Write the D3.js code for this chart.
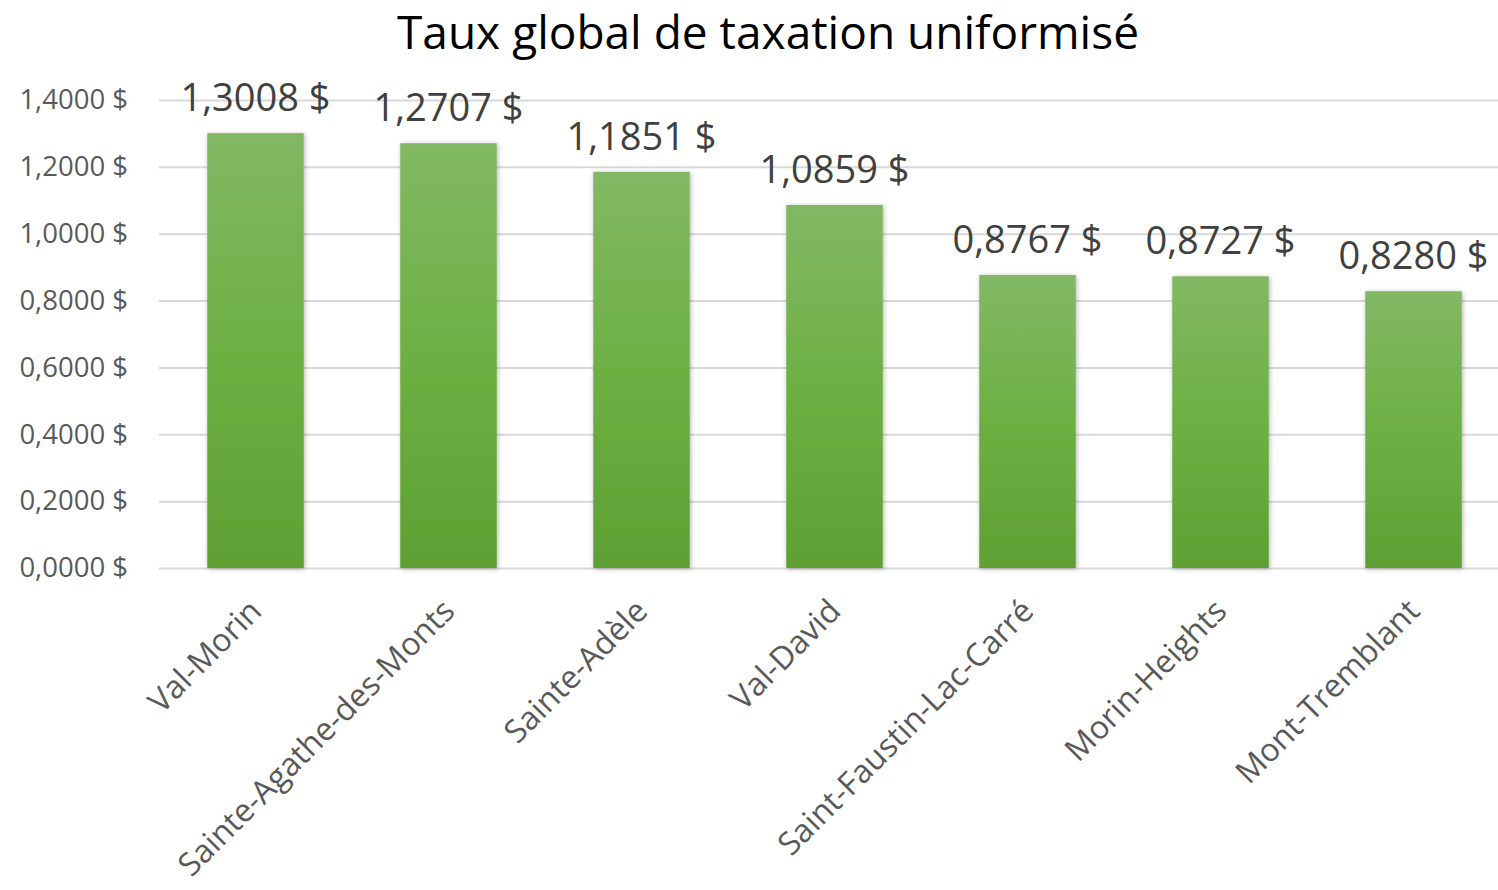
<!DOCTYPE html>
<html lang="fr">
<head>
<meta charset="UTF-8">
<title>Taux global de taxation uniformisé</title>
<style>
  body { margin: 0; background: #fff; }
  text { font-family: "Open Sans", Lato, sans-serif; }
</style>
</head>
<body>
<svg width="1498" height="890" id="svg"></svg>
<script src="https://d3js.org/d3.v7.min.js"></script>
<script>
const municipalites = ["Val-Morin", "Sainte-Agathe-des-Monts", "Sainte-Adèle", "Val-David",
  "Saint-Faustin-Lac-Carré", "Morin-Heights", "Mont-Tremblant"]
const taux = [1.3008, 1.2707, 1.1851, 1.0859, 0.8767, 0.8727, 0.8280]
const yTicks = [0, 0.2, 0.4, 0.6, 0.8, 1.0, 1.2, 1.4]

const data = municipalites.map((name, i) => ({ name, value: taux[i] }))

const svg = d3.select("svg#svg")
const width = +svg.attr("width")

const fmt = v => v.toFixed(4).replace(".", ",") + " $"

const xScale = d3.scaleBand().domain(municipalites).range([159, 1510]).paddingInner(0.5).paddingOuter(0.25)
const yScale = d3.scaleLinear().domain([0, 1.4]).range([568, 100])

const defs = svg.append("defs")
const grad = defs.append("linearGradient").attr("id", "barGrad")
  .attr("x1", 0).attr("y1", 0).attr("x2", 0).attr("y2", 1)
grad.append("stop").attr("offset", "0%").attr("stop-color", "#82b864")
grad.append("stop").attr("offset", "50%").attr("stop-color", "#6db043")
grad.append("stop").attr("offset", "100%").attr("stop-color", "#5fa033")
const shadow = defs.append("filter").attr("id", "shadow").attr("x", "-20%").attr("y", "-20%")
  .attr("width", "140%").attr("height", "140%")
shadow.append("feDropShadow").attr("dx", 1).attr("dy", 1).attr("stdDeviation", 2.5)
  .attr("flood-color", "#000").attr("flood-opacity", 0.3)

// title
svg.append("text").attr("x", 768).attr("y", 49).attr("text-anchor", "middle")
  .attr("font-size", 46).attr("fill", "#000").text("Taux global de taxation uniformisé")

// y axis with gridlines
const yAxis = d3.axisLeft(yScale).tickValues(yTicks).tickSize(-(width - 159)).tickFormat(fmt)
const gy = svg.append("g").attr("transform", "translate(159,0)").call(yAxis)
gy.select(".domain").remove()
gy.selectAll(".tick line").attr("stroke", "#d9d9d9").attr("stroke-width", 2)
gy.selectAll(".tick text").attr("x", -31).attr("font-size", 27.5).attr("fill", "#595959")

// bars
svg.append("g").selectAll("rect").data(data).join("rect")
  .attr("x", d => xScale(d.name))
  .attr("y", d => yScale(d.value))
  .attr("width", xScale.bandwidth())
  .attr("height", d => yScale(0) - yScale(d.value))
  .attr("fill", "url(#barGrad)")
  .attr("filter", "url(#shadow)")

// value labels
svg.append("g").selectAll("text").data(data).join("text")
  .attr("x", d => xScale(d.name) + xScale.bandwidth() / 2)
  .attr("y", d => yScale(d.value) - 22)
  .attr("text-anchor", "middle")
  .attr("font-size", 38).attr("fill", "#404040")
  .text(d => fmt(d.value))

// x axis labels
const xAxis = d3.axisBottom(xScale).tickSize(0)
const gx = svg.append("g").attr("transform", "translate(0,568)").call(xAxis)
gx.select(".domain").remove()
gx.selectAll(".tick text")
  .attr("font-size", 32).attr("fill", "#595959")
  .attr("text-anchor", "end")
  .attr("dy", 0)
  .attr("transform", "translate(8,45) rotate(-45)")
  .attr("y", 0).attr("x", 0)
</script>
</body>
</html>
